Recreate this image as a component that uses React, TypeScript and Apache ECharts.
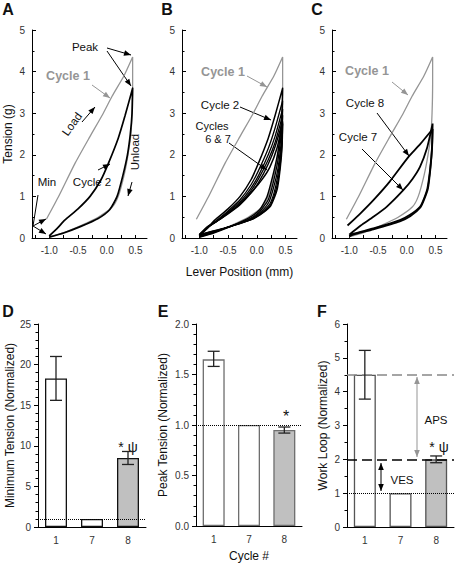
import React, { useEffect, useRef } from "react";
import * as echarts from "echarts";

// ---------- DATA ----------
const leverTicks = [-1.0, -0.5, 0.0, 0.5];
const leverMinorTicks = [-1.25, -1.0, -0.75, -0.5, -0.25, 0.0, 0.25, 0.5];

// Tension (g) vs lever position (mm) loops: load then unload
const cycle1 = [
  [-1.05, 0.45], [-0.84, 0.99], [-0.55, 1.8], [-0.3, 2.42], [-0.06, 3.0], [0.09, 3.4], [0.3, 3.9], [0.45, 4.35],
  [0.45, 3.7], [0.44, 3.0], [0.42, 2.5], [0.37, 2.0], [0.3, 1.5], [0.2, 1.0], [0.1, 0.75], [-0.15, 0.5], [-0.45, 0.3], [-0.75, 0.13], [-1.0, 0.03],
];
const cycle2 = [
  [-1.0, 0.05], [-0.85, 0.25], [-0.73, 0.43], [-0.5, 0.7], [-0.29, 1.0], [-0.1, 1.4], [0.03, 1.8], [0.2, 2.4], [0.32, 2.95], [0.45, 3.6],
  [0.44, 3.0], [0.41, 2.5], [0.36, 2.0], [0.28, 1.5], [0.18, 1.0], [0.05, 0.68], [-0.15, 0.47], [-0.45, 0.28], [-0.75, 0.12], [-1.0, 0.02],
];
const cycle3 = [
  [-1.0, 0.06], [-0.85, 0.26], [-0.7, 0.42], [-0.5, 0.65], [-0.29, 0.92], [-0.1, 1.28], [0.03, 1.62], [0.2, 2.15], [0.32, 2.65], [0.45, 3.3],
  [0.44, 2.75], [0.41, 2.3], [0.36, 1.8], [0.29, 1.35], [0.2, 0.92], [0.05, 0.63], [-0.14, 0.45], [-0.5, 0.26], [-0.8, 0.11], [-1.0, 0.03],
];
const cycle4 = [
  [-1.0, 0.07], [-0.85, 0.26], [-0.7, 0.4], [-0.5, 0.62], [-0.29, 0.87], [-0.1, 1.2], [0.03, 1.5], [0.2, 2.0], [0.32, 2.45], [0.45, 3.1],
  [0.44, 2.55], [0.41, 2.1], [0.36, 1.6], [0.29, 1.2], [0.21, 0.86], [0.05, 0.6], [-0.13, 0.44], [-0.52, 0.25], [-0.85, 0.1], [-1.0, 0.04],
];
const cycle5 = [
  [-1.0, 0.07], [-0.85, 0.27], [-0.7, 0.4], [-0.5, 0.6], [-0.29, 0.83], [-0.1, 1.14], [0.03, 1.42], [0.2, 1.88], [0.32, 2.3], [0.45, 2.95],
  [0.44, 2.4], [0.41, 1.95], [0.36, 1.45], [0.3, 1.08], [0.22, 0.8], [0.05, 0.57], [-0.12, 0.44], [-0.55, 0.24], [-0.88, 0.1], [-1.0, 0.04],
];
const cycle6 = [
  [-1.0, 0.08], [-0.85, 0.28], [-0.7, 0.4], [-0.5, 0.58], [-0.29, 0.8], [-0.1, 1.08], [0.03, 1.33], [0.2, 1.78], [0.32, 2.2], [0.45, 2.8],
  [0.44, 2.28], [0.41, 1.8], [0.36, 1.3], [0.3, 1.0], [0.23, 0.77], [0.05, 0.56], [-0.12, 0.43], [-0.57, 0.23], [-0.92, 0.1], [-1.0, 0.05],
];
const cycle7 = [
  [-1.0, 0.08], [-0.8, 0.3], [-0.58, 0.51], [-0.35, 0.75], [-0.06, 1.15], [0.1, 1.42], [0.23, 1.71], [0.35, 2.15], [0.45, 2.75],
  [0.44, 2.2], [0.41, 1.7], [0.36, 1.2], [0.3, 0.95], [0.23, 0.75], [0.05, 0.55], [-0.12, 0.43], [-0.58, 0.23], [-0.93, 0.1], [-1.0, 0.05],
];
const cycle8 = [
  [-1.03, 0.3], [-0.8, 0.6], [-0.58, 0.91], [-0.3, 1.35], [0.03, 1.95], [0.23, 2.25], [0.45, 2.62],
  [0.44, 2.15], [0.41, 1.65], [0.37, 1.2], [0.31, 0.95], [0.24, 0.74], [0.06, 0.52], [-0.12, 0.4], [-0.58, 0.21], [-0.93, 0.08], [-1.0, 0.04],
];

const cycleCategories = ["1", "7", "8"];
const barFills = ["#ffffff", "#ffffff", "#c0c0c0"];

const minTension = [18.3, 1.0, 8.5];
const minTensionErr = [[0, 15.6, 21.0], [2, 7.7, 9.3]];

const peakTension = [1.65, 1.0, 0.95];
const peakTensionErr = [[0, 1.58, 1.73], [2, 0.92, 0.98]];

const workLoop = [4.5, 1.0, 2.0];
const workLoopErr = [[0, 3.78, 5.22], [2, 1.9, 2.1]];

const normalLevel = 1;
const apsLevel = 4.5;
const vesLevel = 2.0;

// ---------- STYLE ----------
const FONT = "'Liberation Sans', Arial, sans-serif";
const GRAY = "#959595";

function arrow(x1: number, y1: number, x2: number, y2: number, color = "#000", double = false, w = 1) {
  const head = (ax: number, ay: number, bx: number, by: number) => {
    const ang = Math.atan2(by - ay, bx - ax);
    const L = 7, H = 2.8;
    const c = Math.cos(ang), s = Math.sin(ang);
    return {
      type: "polygon",
      silent: true,
      shape: {
        points: [
          [bx, by],
          [bx - L * c + H * s, by - L * s - H * c],
          [bx - L * c - H * s, by - L * s + H * c],
        ],
      },
      style: { fill: color },
    };
  };
  const els: any[] = [
    { type: "line", silent: true, shape: { x1, y1, x2, y2 }, style: { stroke: color, lineWidth: w } },
    head(x1, y1, x2, y2),
  ];
  if (double) els.push(head(x2, y2, x1, y1));
  return els;
}

function txt(text: string, x: number, y: number, opts: any = {}) {
  return {
    type: "text",
    silent: true,
    x,
    y,
    rotation: opts.rotation || 0,
    style: {
      text,
      fill: opts.color || "#111",
      font: `${opts.bold ? "bold " : ""}${opts.size || 11.5}px ${FONT}`,
      textAlign: opts.align || "center",
      textVerticalAlign: "middle",
    },
  };
}

const tickLabel = { color: "#333", fontSize: 10, fontFamily: FONT };

function topX(gi: number, name = "") {
  return {
    type: "value",
    gridIndex: gi,
    min: -1.3,
    max: 0.7,
    axisLine: { show: true, onZero: false, lineStyle: { color: "#000", width: 1 } },
    axisTick: { show: true, inside: true, length: 3, customValues: leverMinorTicks, lineStyle: { color: "#000" } },
    splitLine: { show: false },
    axisLabel: { ...tickLabel, margin: 7, customValues: leverTicks, formatter: (v: number) => v.toFixed(1) },
    name,
    nameLocation: "middle",
    nameGap: 28,
    nameTextStyle: { color: "#111", fontSize: 12, fontFamily: FONT },
  };
}

function yAx(gi: number, min: number, max: number, interval: number, minorSplit: number, inside: boolean, name = "", nameGap = 20, fmt?: any) {
  return {
    type: "value",
    gridIndex: gi,
    min,
    max,
    interval,
    axisLine: { show: true, onZero: false, lineStyle: { color: "#000", width: 1 } },
    axisTick: { show: true, inside, length: 4, lineStyle: { color: "#000" } },
    minorTick: { show: true, splitNumber: minorSplit, length: 2.5, lineStyle: { color: "#000" } },
    splitLine: { show: false },
    minorSplitLine: { show: false },
    axisLabel: { ...tickLabel, margin: 7, formatter: fmt },
    name,
    nameLocation: "middle",
    nameGap,
    nameTextStyle: { color: "#111", fontSize: 12, fontFamily: FONT },
  };
}

function catX(gi: number, name = "") {
  return {
    type: "category",
    gridIndex: gi,
    data: cycleCategories,
    axisLine: { show: true, lineStyle: { color: "#000", width: 1 } },
    axisTick: { show: false },
    splitLine: { show: false },
    axisLabel: { ...tickLabel, margin: 8 },
    name,
    nameLocation: "middle",
    nameGap: 24,
    nameTextStyle: { color: "#111", fontSize: 12, fontFamily: FONT },
  };
}

function loop(data: number[][], gi: number, color: string, width: number) {
  return {
    type: "line",
    xAxisIndex: gi,
    yAxisIndex: gi,
    data,
    showSymbol: false,
    smooth: 0.2,
    lineStyle: { color, width },
    z: color === "#000" ? 3 : 2,
  };
}

function bars(values: number[], gi: number, border: string, marks: any[]) {
  return {
    type: "bar",
    xAxisIndex: gi,
    yAxisIndex: gi,
    barWidth: 22,
    data: values.map((v, i) => ({ value: v, itemStyle: { color: barFills[i] } })),
    itemStyle: { borderColor: border, borderWidth: 1.3 },
    markLine: {
      silent: true,
      symbol: ["none", "none"],
      label: { show: false },
      data: marks,
    },
  };
}

function errBars(data: number[][], gi: number) {
  return {
    type: "custom",
    xAxisIndex: gi,
    yAxisIndex: gi,
    z: 6,
    encode: { x: 0, y: [1, 2] },
    data,
    renderItem: (params: any, api: any) => {
      const c = api.value(0);
      const lo = api.coord([c, api.value(1)]);
      const hi = api.coord([c, api.value(2)]);
      const x = lo[0];
      const hw = 6;
      const st = { stroke: "#222", lineWidth: 1.3 };
      return {
        type: "group",
        children: [
          { type: "line", shape: { x1: x, y1: lo[1], x2: x, y2: hi[1] }, style: st },
          { type: "line", shape: { x1: x - hw, y1: lo[1], x2: x + hw, y2: lo[1] }, style: st },
          { type: "line", shape: { x1: x - hw, y1: hi[1], x2: x + hw, y2: hi[1] }, style: st },
        ],
      };
    },
  };
}

const dotted = (v: number) => ({ yAxis: v, lineStyle: { type: "dotted", color: "#000", width: 1 } });

export default function App() {
  const ref = useRef<HTMLDivElement>(null);
  useEffect(() => {
    if (!ref.current) return;
    const chart = echarts.init(ref.current, null, { renderer: "svg" });
    const graphic: any[] = [
      // panel letters
      txt("A", 8, 9, { bold: true, size: 16 }),
      txt("B", 167, 9, { bold: true, size: 16 }),
      txt("C", 317, 9, { bold: true, size: 16 }),
      txt("D", 8, 311, { bold: true, size: 16 }),
      txt("E", 163, 311, { bold: true, size: 16 }),
      txt("F", 322, 311, { bold: true, size: 16 }),
      // panel A
      txt("Peak", 85, 47),
      ...arrow(107, 48, 131, 55),
      ...arrow(107, 51, 131, 86),
      txt("Cycle 1", 68, 76, { bold: true, color: GRAY, size: 12.5 }),
      ...arrow(92, 85, 110, 98, GRAY),
      txt("Load", 72, 124, { rotation: 0.95 }),
      ...arrow(82, 122, 95, 107),
      txt("Unload", 135, 152, { rotation: Math.PI / 2 }),
      ...arrow(132, 182, 128, 196),
      txt("Min", 47, 182),
      { type: "line", silent: true, shape: { x1: 38, y1: 195, x2: 33, y2: 226 }, style: { stroke: "#000", lineWidth: 1 } },
      ...arrow(33, 226, 46, 219),
      ...arrow(33, 226, 46, 234),
      txt("Cycle 2", 92, 182),
      ...arrow(98, 170, 110, 164),
      // panel B
      txt("Cycle 1", 223, 72, { bold: true, color: GRAY, size: 12.5 }),
      ...arrow(247, 76, 267, 87, GRAY),
      txt("Cycle 2", 220, 105),
      ...arrow(240, 107, 271, 120),
      txt("Cycles", 212, 126, { size: 11 }),
      txt("6 & 7", 218, 139, { size: 11 }),
      ...arrow(229, 143, 267, 170),
      // panel C
      txt("Cycle 1", 367, 71, { bold: true, color: GRAY, size: 12.5 }),
      ...arrow(392, 82, 408, 95, GRAY),
      txt("Cycle 8", 365, 103),
      ...arrow(377, 113, 409, 156),
      txt("Cycle 7", 358, 137),
      ...arrow(362, 149, 403, 190),
      // bottom annotations
      txt("* \u03c8", 128, 447, { size: 14 }),
      txt("*", 286, 416, { size: 16 }),
      txt("* \u03c8", 439, 447, { size: 14 }),
      ...arrow(417, 377, 417, 457, GRAY, true),
      txt("APS", 436, 420),
      ...arrow(381, 463, 381, 491, "#000", true),
      txt("VES", 402, 480),
    ];

    chart.setOption({
      animation: false,
      backgroundColor: "#fff",
      textStyle: { fontFamily: FONT },
      grid: [
        { left: 32, top: 30, width: 115, height: 208 },
        { left: 182, top: 30, width: 115, height: 208 },
        { left: 332, top: 30, width: 115, height: 208 },
        { left: 38, top: 324, width: 108, height: 203 },
        { left: 196, top: 324, width: 106, height: 203 },
        { left: 347, top: 324, width: 107, height: 203 },
      ],
      xAxis: [topX(0), topX(1, "Lever Position (mm)"), topX(2), catX(3), catX(4, "Cycle #"), catX(5)],
      yAxis: [
        yAx(0, 0, 5, 1, 2, true, "Tension (g)", 18),
        yAx(1, 0, 5, 1, 2, true),
        yAx(2, 0, 5, 1, 2, true),
        yAx(3, 0, 25, 5, 5, false, "Minimum Tension (Normalized)", 20),
        yAx(4, 0, 2, 0.5, 5, false, "Peak Tension (Normalized)", 27, (v: number) => v.toFixed(1)),
        yAx(5, 0, 6, 1, 2, false, "Work Loop (Normalized)", 18),
      ],
      series: [
        loop(cycle1, 0, GRAY, 1.3),
        loop(cycle2, 0, "#000", 1.7),
        loop(cycle1, 1, GRAY, 1.3),
        loop(cycle2, 1, "#000", 1.5),
        loop(cycle3, 1, "#000", 1.3),
        loop(cycle4, 1, "#000", 1.3),
        loop(cycle5, 1, "#000", 1.3),
        loop(cycle6, 1, "#000", 1.4),
        loop(cycle7, 1, "#000", 1.5),
        loop(cycle1, 2, GRAY, 1.3),
        loop(cycle7, 2, "#000", 1.8),
        loop(cycle8, 2, "#000", 1.8),
        bars(minTension, 3, "#111", [dotted(normalLevel)]),
        errBars(minTensionErr, 3),
        bars(peakTension, 4, "#6e6e6e", [dotted(normalLevel)]),
        errBars(peakTensionErr, 4),
        bars(workLoop, 5, "#555", [
          dotted(normalLevel),
          { yAxis: apsLevel, lineStyle: { type: [10, 5], color: "#888", width: 1.5 } },
          { yAxis: vesLevel, lineStyle: { type: [10, 5], color: "#000", width: 1.5 } },
        ]),
        errBars(workLoopErr, 5),
      ],
      graphic,
    });
    return () => chart.dispose();
  }, []);
  return <div ref={ref} style={{ position: "absolute", left: 0, top: 0, width: 455, height: 563 }} />;
}
